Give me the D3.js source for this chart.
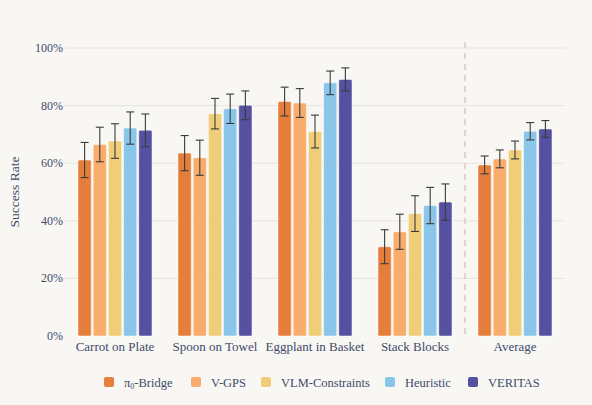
<!DOCTYPE html>
<html><head><meta charset="utf-8">
<script src="https://cdn.jsdelivr.net/npm/d3@7"></script>
<style>
html,body{margin:0;padding:0;background:#f8f7f3;}
svg{display:block;font-family:"Liberation Serif","DejaVu Serif",serif;}
</style></head>
<body>
<svg id="chart" width="592" height="405"></svg>
<script>
const categories = ["Carrot on Plate","Spoon on Towel","Eggplant in Basket","Stack Blocks","Average"];
const seriesNames = ["π0-Bridge","V-GPS","VLM-Constraints","Heuristic","VERITAS"];
const colors = ["#e57e3b","#f9ad6d","#f0cd79","#8ac5ea","#5551a0"];
const pi0Bridge = [61.1, 63.5, 81.4, 31.0, 59.4];
const vGPS = [66.5, 61.9, 80.9, 36.2, 61.5];
const vlmConstraints = [67.7, 77.2, 71.0, 42.5, 64.6];
const heuristic = [72.2, 78.9, 87.9, 45.3, 71.1];
const veritas = [71.4, 80.1, 89.1, 46.5, 71.9];
const pi0BridgeErr = [6.1, 6.1, 5.0, 5.9, 3.1];
const vGPSErr = [6.0, 6.1, 5.0, 6.1, 3.1];
const vlmConstraintsErr = [6.0, 5.3, 5.7, 6.2, 3.1];
const heuristicErr = [5.6, 5.1, 4.1, 6.3, 3.0];
const veritasErr = [5.7, 5.0, 4.0, 6.3, 2.9];
const yTicks = [0, 20, 40, 60, 80, 100];

const values = [pi0Bridge, vGPS, vlmConstraints, heuristic, veritas];
const errs = [pi0BridgeErr, vGPSErr, vlmConstraintsErr, heuristicErr, veritasErr];

const svg = d3.select("#chart");
const textColor = "#404b6b";
const x0 = d3.scaleBand().domain(categories).range([65, 565]).paddingInner(0.26).paddingOuter(0.13);
const x1 = d3.scaleBand().domain(seriesNames).range([0, x0.bandwidth()]).paddingInner(0.13);
const y = d3.scaleLinear().domain([0, 100]).range([336, 48]);

// grid
svg.append("g").selectAll("line").data(yTicks.slice(1)).join("line")
  .attr("x1", 65).attr("x2", 565).attr("y1", d => y(d)).attr("y2", d => y(d))
  .attr("stroke", "#e6e4df").attr("stroke-width", 1);

// y axis labels
svg.append("g").selectAll("text").data(yTicks).join("text")
  .attr("x", 63).attr("y", d => y(d) + 4)
  .attr("text-anchor", "end").attr("font-size", 12).attr("fill", textColor)
  .text(d => d + "%");

svg.append("text")
  .attr("transform", `translate(19,${y(50)}) rotate(-90)`)
  .attr("text-anchor", "middle").attr("font-size", 13.5).attr("fill", textColor)
  .text("Success Rate");

// divider
const divX = (x0("Stack Blocks") + x0.bandwidth() + x0("Average")) / 2;
svg.append("line").attr("x1", divX).attr("x2", divX).attr("y1", 42).attr("y2", 336)
  .attr("stroke", "#cfcdc8").attr("stroke-width", 1.5).attr("stroke-dasharray", "6,5");

// bars
const groups = svg.append("g").selectAll("g").data(categories).join("g")
  .attr("transform", d => `translate(${x0(d)},0)`);

groups.each(function(cat, ci) {
  const g = d3.select(this);
  seriesNames.forEach((s, si) => {
    const v = values[si][ci];
    g.append("rect")
      .attr("x", x1(s)).attr("y", y(v))
      .attr("width", x1.bandwidth()).attr("height", y(0) - y(v))
      .attr("rx", 1.5)
      .attr("fill", colors[si]).attr("stroke", "#ffffff").attr("stroke-opacity", 0.6).attr("stroke-width", 0.8);
  });
  seriesNames.forEach((s, si) => {
    const v = values[si][ci], e = errs[si][ci];
    const cx = x1(s) + x1.bandwidth() / 2;
    const eg = g.append("g").attr("stroke", "#3a3a3a").attr("stroke-width", 1.1);
    eg.append("line").attr("x1", cx).attr("x2", cx).attr("y1", y(v + e)).attr("y2", y(v - e));
    eg.append("line").attr("x1", cx - 4).attr("x2", cx + 4).attr("y1", y(v + e)).attr("y2", y(v + e));
    eg.append("line").attr("x1", cx - 4).attr("x2", cx + 4).attr("y1", y(v - e)).attr("y2", y(v - e));
  });
});

// category labels
svg.append("g").selectAll("text").data(categories).join("text")
  .attr("x", d => x0(d) + x0.bandwidth() / 2).attr("y", 351)
  .attr("text-anchor", "middle").attr("font-size", 13).attr("fill", textColor)
  .text(d => d);

// legend
const legendX = [104, 191, 261, 385, 468];
const leg = svg.append("g").selectAll("g").data(seriesNames).join("g")
  .attr("transform", (d, i) => `translate(${legendX[i]},382)`);
leg.append("rect").attr("x", 0).attr("y", -5).attr("width", 10).attr("height", 10).attr("rx", 2)
  .attr("fill", (d, i) => colors[i]);
leg.each(function(d, i) {
  const t = d3.select(this).append("text").attr("x", 20).attr("y", 4.5)
    .attr("font-size", 12.5).attr("fill", textColor);
  if (d.startsWith("π0")) {
    t.append("tspan").text("π");
    t.append("tspan").attr("font-size", 8).attr("dy", 2).text("0");
    t.append("tspan").attr("dy", -2).text(d.slice(2));
  } else {
    t.text(d);
  }
});
</script>
</body></html>
